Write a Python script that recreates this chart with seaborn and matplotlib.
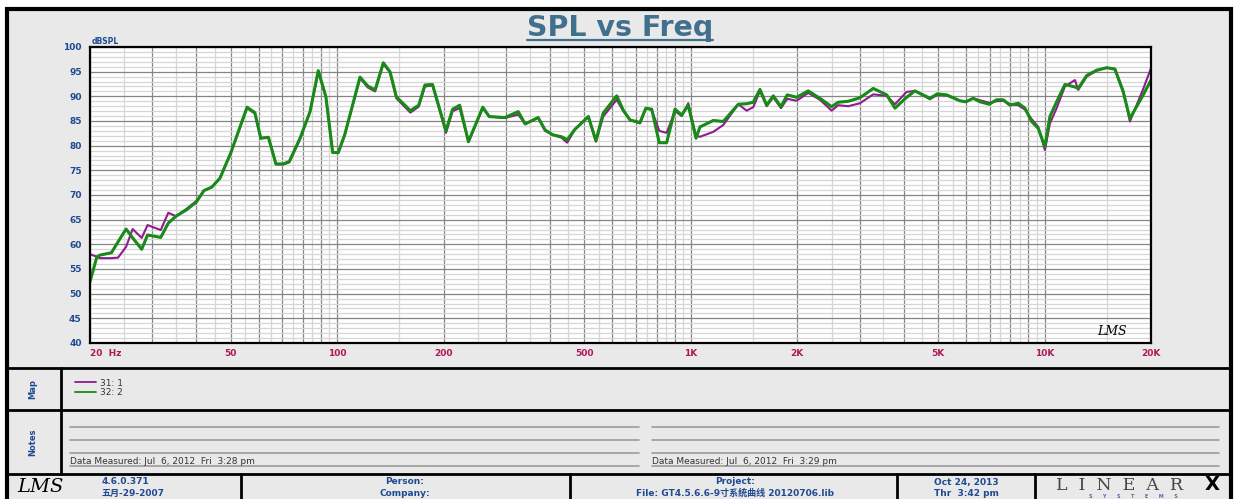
import numpy as np
import pandas as pd
import seaborn as sns
import matplotlib.pyplot as plt
from matplotlib.patches import Rectangle
from matplotlib.ticker import FixedLocator, FuncFormatter, MultipleLocator

# measurement frequencies (Hz) and SPL (dB) for both curves
freq = [20, 20.9, 21.3, 23.0, 24.0, 25.3, 26.4, 28.0, 29.1, 31.7,
        33.3, 35.0, 37.5, 40, 42.0, 44.2, 46.6, 50.0, 55.6, 58.5,
        60.8, 63.9, 67.1, 70.4, 73.2, 78.5, 83.8, 88.4, 92.9, 97.1,
        100.7, 105, 116, 122, 128, 135, 141, 147, 161, 170,
        177, 186, 203, 212, 222, 235, 258, 269, 298, 325,
        340, 370, 387, 407, 431, 447, 470, 513, 539, 565,
        617, 644, 673, 718, 746, 775, 814, 854, 902, 942,
        983, 1034, 1061, 1157, 1235, 1362, 1438, 1501, 1568, 1638,
        1710, 1798, 1873, 1991, 2147, 2317, 2501, 2610, 2786, 3006,
        3278, 3578, 3776, 4074, 4301, 4743, 4973, 5285, 5764, 5995,
        6286, 6567, 6976, 7320, 7642, 7982, 8426, 8802, 9192, 9598,
        10024, 10356, 10818, 11420, 12188, 12452, 13152, 14040, 14984, 15814,
        16690, 17432, 19012, 20000]

spl_31 = [58.0, 57.5, 57.2, 57.2, 57.3, 59.5, 63.1, 61.3, 63.9, 62.9,
          66.4, 65.7, 67.2, 68.8, 70.9, 71.6, 73.4, 78.5, 87.6, 86.5,
          81.5, 81.7, 76.2, 76.2, 76.6, 81.3, 86.9, 95.0, 89.9, 78.6,
          78.6, 82.2, 93.7, 91.8, 91.0, 96.6, 94.8, 89.6, 86.7, 87.9,
          92.0, 92.2, 82.6, 87.0, 87.6, 80.8, 87.6, 85.9, 85.6, 86.3,
          84.4, 85.7, 83.0, 82.2, 81.6, 80.6, 83.3, 85.9, 80.8, 85.9,
          89.3, 87.0, 85.2, 84.5, 87.6, 87.2, 83.0, 82.6, 87.0, 86.0,
          88.6, 82.0, 81.8, 82.8, 84.2, 88.4, 87.1, 87.8, 91.1, 88.0,
          89.8, 87.6, 89.5, 89.1, 90.7, 89.3, 87.1, 88.2, 88.0, 88.6,
          90.4, 90.1, 88.4, 90.9, 91.1, 89.4, 90.3, 90.2, 89.1, 88.9,
          89.6, 89.2, 88.7, 89.0, 89.1, 88.4, 88.2, 87.3, 85.4, 83.8,
          79.1, 84.5, 87.6, 92.0, 93.3, 91.3, 94.0, 95.2, 95.8, 95.6,
          91.2, 84.9, 91.5, 95.7]

spl_32 = [52.4, 57.4, 57.8, 58.3, 60.5, 63.1, 61.3, 59.0, 61.9, 61.4,
          64.3, 65.7, 67.0, 68.6, 70.9, 71.6, 73.4, 78.5, 87.8, 86.7,
          81.5, 81.7, 76.3, 76.3, 76.8, 81.5, 86.9, 95.2, 89.9, 78.6,
          78.6, 82.2, 93.9, 92.1, 91.3, 96.8, 95.0, 89.9, 87.1, 88.2,
          92.3, 92.4, 83.0, 87.4, 88.2, 80.8, 87.8, 85.9, 85.7, 86.9,
          84.4, 85.7, 83.2, 82.2, 81.8, 81.2, 83.3, 85.9, 81.0, 86.6,
          90.1, 87.2, 85.2, 84.7, 87.6, 87.4, 80.6, 80.6, 87.4, 86.2,
          88.2, 81.5, 83.8, 85.1, 84.9, 88.4, 88.5, 88.8, 91.4, 88.2,
          90.1, 87.9, 90.3, 89.8, 91.1, 89.6, 87.9, 88.8, 89.0, 89.7,
          91.6, 90.3, 87.6, 89.8, 91.1, 89.6, 90.5, 90.3, 89.1, 88.9,
          89.6, 88.9, 88.4, 89.3, 89.3, 88.2, 88.6, 87.6, 84.9, 83.5,
          79.8, 85.9, 88.9, 92.4, 91.9, 91.6, 94.2, 95.3, 95.8, 95.5,
          90.9, 85.5, 90.3, 93.3]

labels = ['31: 1', '32: 2']
line_colors = ['#8e1c8e', '#178a17']

x_tick_text = {20: '20  Hz', 50: '50', 100: '100', 200: '200', 500: '500',
               1000: '1K', 2000: '2K', 5000: '5K', 10000: '10K', 20000: '20K'}

df = pd.DataFrame({'freq': freq, 'spl_31': spl_31, 'spl_32': spl_32})

sns.set_style('whitegrid')
plt.rcParams['font.family'] = ['DejaVu Sans', 'Noto Sans CJK SC']

W, H = 1238, 499
blue = '#1f4a92'
fig = plt.figure(figsize=(W / 100, H / 100), dpi=100)
fig.patch.set_facecolor('white')

# page frame drawn in pixel coordinates
bg = fig.add_axes([0, 0, 1, 1])
bg.set_xlim(0, W)
bg.set_ylim(H, 0)
bg.axis('off')
bg.add_patch(Rectangle((7, 9), 1224, 500, facecolor='#e9e9e9', edgecolor='black', lw=3))
for yy in [368, 410, 474]:
    bg.plot([7, 1231], [yy, yy], color='black', lw=2)
bg.plot([61, 61], [368, 474], color='black', lw=2)
for xx in [241, 570, 897, 1035]:
    bg.plot([xx, xx], [474, 499], color='black', lw=2)

title = bg.text(620, 28, 'SPL vs Freq', ha='center', va='center', fontsize=20.5,
                fontweight='bold', color='#41708e')
bg.text(92, 41, 'dBSPL', ha='left', va='center', fontsize=5.5, fontweight='bold', color=blue)

# map / notes labels
bg.text(33, 389, 'Map', rotation=90, ha='center', va='center', fontsize=6,
        fontweight='bold', color=blue)
bg.text(33, 442, 'Notes', rotation=90, ha='center', va='center', fontsize=6,
        fontweight='bold', color=blue)
for yy in [427, 440, 453, 466]:
    bg.plot([70, 639], [yy, yy], color='#9c9c9c', lw=1.2)
    bg.plot([652, 1219], [yy, yy], color='#9c9c9c', lw=1.2)
bg.text(70, 461, 'Data Measured: Jul  6, 2012  Fri  3:28 pm', ha='left', va='center',
        fontsize=6.5, color='#333333')
bg.text(652, 461, 'Data Measured: Jul  6, 2012  Fri  3:29 pm', ha='left', va='center',
        fontsize=6.5, color='#333333')

# footer
bg.text(40, 487, 'LMS', ha='center', va='center', fontsize=14, fontstyle='italic',
        family='DejaVu Serif', color='black')
foot = dict(fontsize=6.5, fontweight='bold', color=blue, va='center')
bg.text(102, 482, '4.6.0.371', ha='left', **foot)
bg.text(102, 493, '五月-29-2007', ha='left', **foot)
bg.text(405, 482, 'Person:', ha='center', **foot)
bg.text(405, 493, 'Company:', ha='center', **foot)
bg.text(735, 482, 'Project:', ha='center', **foot)
bg.text(735, 493, 'File: GT4.5.6.6-9寸系统曲线 20120706.lib', ha='center', **foot)
bg.text(966, 482, 'Oct 24, 2013', ha='center', **foot)
bg.text(966, 493, 'Thr  3:42 pm', ha='center', **foot)
bg.text(1120, 485, 'L  I  N  E  A  R', ha='center', va='center', fontsize=12.5,
        family='DejaVu Serif', color='#444444')
bg.text(1212, 485, 'X', ha='center', va='center', fontsize=14, fontweight='bold', color='black')
bg.text(1133, 496, 'S      Y      S      T      E      M      S', ha='center', va='center',
        fontsize=3.5, fontweight='bold', color='#4a6fb0')

# main chart
ax = fig.add_axes([90 / W, 1 - 343 / H, 1061 / W, 296 / H])
ax.set_facecolor('white')
sns.lineplot(data=df, x='freq', y='spl_31', color=line_colors[0], lw=1.5, ax=ax, label=labels[0])
sns.lineplot(data=df, x='freq', y='spl_32', color=line_colors[1], lw=2.2, ax=ax, label=labels[1])
ax.set_xscale('log')
ax.set_xlim(20, 20000)
ax.set_ylim(40, 100)
ax.set_xlabel('')
ax.set_ylabel('')

dark = [m * d for d in [10, 100, 1000] for m in range(2, 10)] + [1000, 10000, 20000]
dark = sorted(set([20, 30, 40, 50, 60, 70, 80, 90, 100] + dark))
light = [(m + 0.5) * d for d in [10, 100, 1000] for m in range(2, 10)]
light = [v for v in light if v > 20] + [1500, 15000, 150]
light = sorted(set(v for v in light if v < 20000))
ax.xaxis.set_major_locator(FixedLocator(dark))
ax.xaxis.set_minor_locator(FixedLocator(light))
ax.xaxis.set_major_formatter(FuncFormatter(lambda v, p: x_tick_text.get(int(round(v)), '')))
ax.xaxis.set_minor_formatter(FuncFormatter(lambda v, p: ''))
ax.yaxis.set_major_locator(MultipleLocator(5))
ax.yaxis.set_minor_locator(MultipleLocator(1))

ax.grid(which='major', color='#858585', lw=0.9)
ax.grid(which='minor', color='#d6d6d6', lw=0.9)
ax.set_axisbelow(True)
ax.tick_params(which='both', length=0)
ax.tick_params(axis='x', pad=4, labelsize=6.5, labelcolor='#b0165a')
ax.tick_params(axis='y', pad=6, labelsize=6.5, labelcolor=blue)
for t in ax.get_xticklabels() + ax.get_yticklabels():
    t.set_fontweight('bold')
for s in ax.spines.values():
    s.set_color('black')
    s.set_linewidth(1.6)

ax.text(0.963, 0.04, 'LMS', transform=ax.transAxes, ha='center', va='center',
        fontsize=9, fontstyle='italic', family='DejaVu Serif', color='black')

ax.legend(loc='upper left', bbox_to_anchor=(70 / W, 1 - 374 / H), bbox_transform=fig.transFigure,
          frameon=False, fontsize=6.5, handlelength=2.4, labelspacing=0.05, borderpad=0,
          handletextpad=0.4)
leg = ax.get_legend()
for l in leg.get_lines():
    l.set_linewidth(1.3)
for t in leg.get_texts():
    t.set_color('#333333')

fig.canvas.draw()
x0 = ax.get_xticklabels()[0]
x0.set_horizontalalignment('left')
bb = title.get_window_extent().transformed(bg.transData.inverted())
bg.plot([bb.x0, bb.x1], [39.5, 39.5], color='#41708e', lw=1.6)

fig.savefig('out.png', dpi=100)
